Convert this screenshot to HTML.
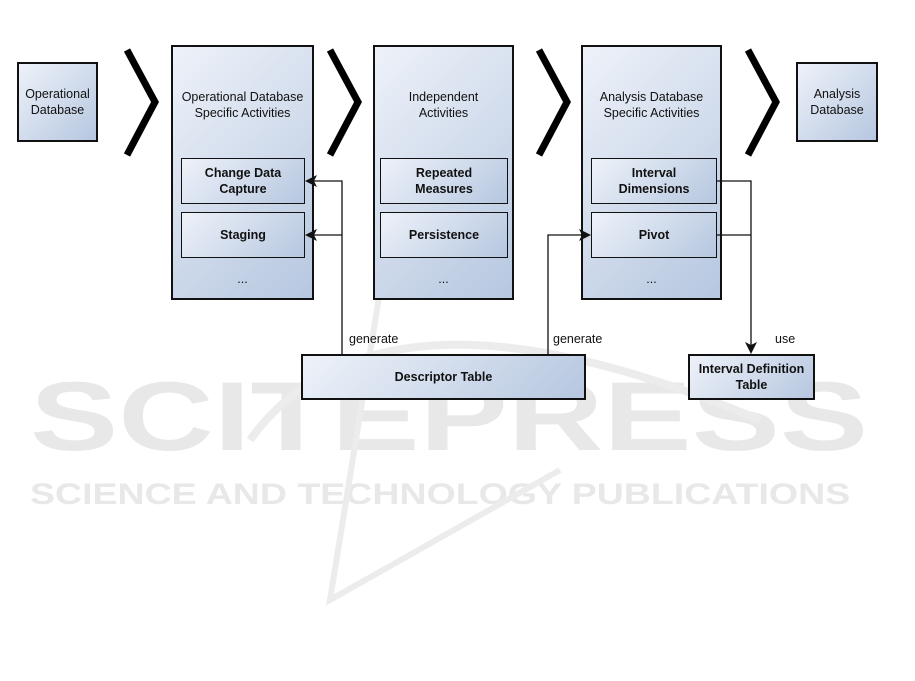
<!DOCTYPE html>
<html><head><style>
body{margin:0;width:915px;height:681px;background:#fff;position:relative;overflow:hidden;font-family:"Liberation Sans",Arial,sans-serif;}
.b{position:absolute;box-sizing:border-box;border:2px solid #111;background:linear-gradient(135deg,#eef2f9 0%,#b6c7e0 100%);font-size:12.5px;color:#111;text-align:center;}
.s{position:absolute;box-sizing:border-box;border:1.5px solid #111;background:linear-gradient(135deg,#eef2f9 0%,#b6c7e0 100%);font-size:12.5px;font-weight:bold;color:#111;display:flex;align-items:center;justify-content:center;text-align:center;line-height:16px;}
.t{position:absolute;font-size:12.5px;color:#111;}
.wm{position:absolute;color:#e8e8e8;font-weight:bold;white-space:nowrap;transform-origin:0 0;}
</style></head><body>
<div class="wm" style="left:30px;top:360px;font-size:98px;transform:scaleX(1.35);">SCITEPRESS</div>
<div class="wm" style="left:30px;top:478px;font-size:30px;transform:scaleX(1.25);">SCIENCE AND TECHNOLOGY PUBLICATIONS</div>
<svg style="position:absolute;left:0;top:0" width="915" height="681">
<path d="M250 440 Q380 260 760 420" fill="none" stroke="#ececec" stroke-width="8"/>
<path d="M385 260 L330 600 L560 470" fill="none" stroke="#ececec" stroke-width="6"/>
</svg>
<div class="b" style="left:17px;top:62px;width:81px;height:80px;display:flex;align-items:center;justify-content:center;line-height:16px;">Operational<br>Database</div>
<div class="b" style="left:796px;top:62px;width:82px;height:80px;display:flex;align-items:center;justify-content:center;line-height:16px;">Analysis<br>Database</div>
<div class="b" style="left:171px;top:45px;width:143px;height:255px;padding-top:42px;line-height:16px;">Operational Database<br>Specific Activities<div style="position:absolute;left:0;right:0;top:224px;">...</div></div>
<div class="b" style="left:373px;top:45px;width:141px;height:255px;padding-top:42px;line-height:16px;">Independent<br>Activities<div style="position:absolute;left:0;right:0;top:224px;">...</div></div>
<div class="b" style="left:581px;top:45px;width:141px;height:255px;padding-top:42px;line-height:16px;">Analysis Database<br>Specific Activities<div style="position:absolute;left:0;right:0;top:224px;">...</div></div>
<div class="s" style="left:181px;top:158px;width:124px;height:46px;">Change Data<br>Capture</div>
<div class="s" style="left:181px;top:212px;width:124px;height:46px;">Staging</div>
<div class="s" style="left:380px;top:158px;width:128px;height:46px;">Repeated<br>Measures</div>
<div class="s" style="left:380px;top:212px;width:128px;height:46px;">Persistence</div>
<div class="s" style="left:591px;top:158px;width:126px;height:46px;">Interval<br>Dimensions</div>
<div class="s" style="left:591px;top:212px;width:126px;height:46px;">Pivot</div>
<div class="s" style="left:301px;top:354px;width:285px;height:46px;border-width:2px;">Descriptor Table</div>
<div class="s" style="left:688px;top:354px;width:127px;height:46px;border-width:2px;">Interval Definition<br>Table</div>
<svg style="position:absolute;left:0;top:0" width="915" height="681">
<g stroke="#000" stroke-width="7" fill="none">
<polyline points="127,50 155,102 127,155"/>
<polyline points="330,50 358,102 330,155"/>
<polyline points="539,50 567,102 539,155"/>
<polyline points="748,50 776,102 748,155"/>
</g>
<g stroke="#111" stroke-width="1.3" fill="none">
<polyline points="342,354 342,181 312,181"/>
<line x1="342" y1="235" x2="312" y2="235"/>
<polyline points="548,354 548,235 583,235"/>
<polyline points="717,181 751,181 751,346"/>
<line x1="717" y1="235" x2="751" y2="235"/>
</g>
<g fill="#111">
<polygon points="305,181 317,175 314,181 317,187"/>
<polygon points="305,235 317,229 314,235 317,241"/>
<polygon points="591,235 579,229 582,235 579,241"/>
<polygon points="751,354 745,342 751,345 757,342"/>
</g>
</svg>
<div class="t" style="left:349px;top:332px;">generate</div>
<div class="t" style="left:553px;top:332px;">generate</div>
<div class="t" style="left:775px;top:332px;">use</div>
</body></html>
